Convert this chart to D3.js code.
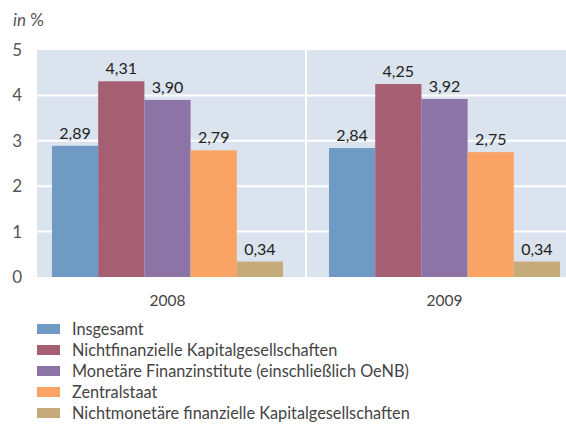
<!DOCTYPE html>
<html>
<head>
<meta charset="utf-8">
<script src="https://cdn.jsdelivr.net/npm/d3@7"></script>
<style>
  body { margin: 0; background: #fff; }
  svg { display: block; font-family: Lato, "Open Sans", sans-serif; }
</style>
</head>
<body>
<div id="chart"></div>
<script>
const years = ["2008", "2009"];
const series = [
  "Insgesamt",
  "Nichtfinanzielle Kapitalgesellschaften",
  "Monetäre Finanzinstitute (einschließlich OeNB)",
  "Zentralstaat",
  "Nichtmonetäre finanzielle Kapitalgesellschaften"
];
const values2008 = [2.89, 4.31, 3.90, 2.79, 0.34];
const values2009 = [2.84, 4.25, 3.92, 2.75, 0.34];
const yTicks = [0, 1, 2, 3, 4, 5];

const colors = ["#6f9ac4", "#a65f72", "#8c74a6", "#f9a465", "#c6aa79"];

const width = 566, height = 432;
const plot = { left: 37, right: 566, top: 50, bottom: 277 };

const svg = d3.select("#chart").append("svg")
  .attr("width", width)
  .attr("height", height);

const y = d3.scaleLinear().domain([0, 5]).range([plot.bottom, plot.top]);

const x0 = d3.scaleBand()
  .domain(years)
  .range([37, 575])
  .paddingInner(0.166)
  .paddingOuter(0.054);

const x1 = d3.scaleBand()
  .domain(series)
  .range([0, x0.bandwidth()]);

// background
svg.append("rect")
  .attr("x", plot.left)
  .attr("y", plot.top)
  .attr("width", plot.right - plot.left)
  .attr("height", plot.bottom - plot.top)
  .attr("fill", "#dae3ee");

// gridlines
svg.selectAll(".grid")
  .data(yTicks.filter(d => d > 0 && d < 5))
  .enter()
  .append("line")
  .attr("x1", plot.left)
  .attr("x2", plot.right)
  .attr("y1", d => y(d))
  .attr("y2", d => y(d))
  .attr("stroke", "#fff")
  .attr("stroke-width", 2);

// separator between years
const sepX = (x0("2008") + x0.bandwidth() + x0("2009")) / 2;
svg.append("line")
  .attr("x1", sepX)
  .attr("x2", sepX)
  .attr("y1", plot.top)
  .attr("y2", plot.bottom)
  .attr("stroke", "#fff")
  .attr("stroke-width", 2);

const data = [values2008, values2009].map((vals, i) => ({
  year: years[i],
  items: vals.map((v, j) => ({ name: series[j], value: v, color: colors[j] }))
}));

const groups = svg.selectAll(".group")
  .data(data)
  .enter()
  .append("g")
  .attr("transform", d => `translate(${x0(d.year)},0)`);

groups.selectAll("rect")
  .data(d => d.items)
  .enter()
  .append("rect")
  .attr("x", d => x1(d.name))
  .attr("y", d => y(d.value))
  .attr("width", x1.bandwidth())
  .attr("height", d => y(0) - y(d.value))
  .attr("fill", d => d.color);

groups.selectAll("text")
  .data(d => d.items)
  .enter()
  .append("text")
  .attr("x", d => x1(d.name) + x1.bandwidth() / 2)
  .attr("y", d => y(d.value) - 7)
  .attr("text-anchor", "middle")
  .attr("fill", "#222")
  .style("font-size", "16px")
  .text(d => d.value.toFixed(2).replace(".", ","));

// y axis labels
svg.selectAll(".ytick")
  .data(yTicks)
  .enter()
  .append("text")
  .attr("x", 22)
  .attr("y", d => y(d))
  .attr("dy", "0.35em")
  .attr("text-anchor", "end")
  .attr("fill", "#555")
  .style("font-size", "17px")
  .text(d => d);

svg.append("text")
  .attr("x", 13)
  .attr("y", 26)
  .attr("fill", "#555")
  .style("font-size", "17px")
  .html('<tspan font-style="italic">in</tspan> %');

// x axis labels
svg.selectAll(".xtick")
  .data(years)
  .enter()
  .append("text")
  .attr("x", d => x0(d) + x0.bandwidth() / 2)
  .attr("y", 306)
  .attr("text-anchor", "middle")
  .attr("fill", "#444")
  .style("font-size", "15.5px")
  .text(d => d);

// legend
const legend = svg.selectAll(".legend")
  .data(series)
  .enter()
  .append("g")
  .attr("transform", (d, i) => `translate(37, ${324 + i * 21})`);

legend.append("rect")
  .attr("width", 23)
  .attr("height", 10)
  .attr("fill", (d, i) => colors[i]);

legend.append("text")
  .attr("x", 35)
  .attr("y", 5)
  .attr("dy", "0.35em")
  .attr("fill", "#444")
  .style("font-size", "16.3px")
  .text(d => d);
</script>
</body>
</html>
